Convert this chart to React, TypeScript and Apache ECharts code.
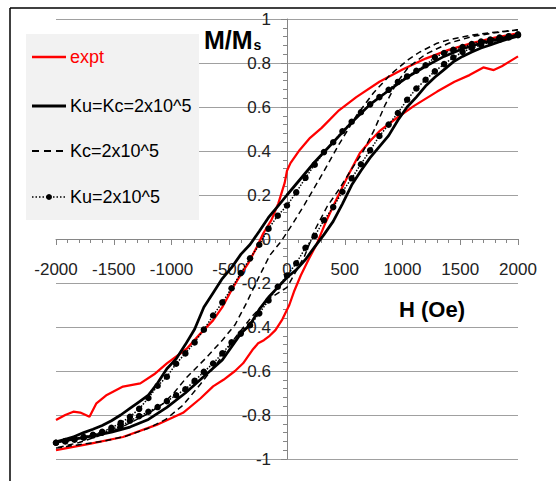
import { useEffect, useRef } from 'react';
import * as echarts from 'echarts';

const FONT = '"Liberation Sans", Arial, sans-serif';

const seriesNames = ['expt', 'Ku=Kc=2x10^5', 'Kc=2x10^5', 'Ku=2x10^5'];

// ---- expt (red) ----
const exptUpperH = [2000, 1800, 1600, 1400, 1200, 1000, 800, 600, 450, 300, 200, 110, 30, 0, -20, -75, -135, -205, -260, -335, -410, -480, -560, -640, -750, -870, -1040, -1150, -1270, -1420, -1560, -1650, -1710, -1790, -1850, -1920, -2000];
const exptUpperM = [0.935, 0.915, 0.89, 0.86, 0.82, 0.77, 0.715, 0.645, 0.585, 0.505, 0.46, 0.405, 0.345, 0.31, 0.255, 0.162, 0.086, 0.026, -0.035, -0.11, -0.17, -0.232, -0.31, -0.37, -0.43, -0.5, -0.565, -0.615, -0.656, -0.671, -0.709, -0.747, -0.808, -0.789, -0.785, -0.8, -0.823];
const exptLowerH = [-2000, -1700, -1420, -1130, -900, -750, -640, -550, -450, -380, -300, -250, -200, -150, -100, -40, 20, 60, 120, 190, 260, 330, 410, 530, 630, 720, 800, 950, 1100, 1300, 1450, 1580, 1700, 1790, 1860, 2000];
const exptLowerM = [-0.96, -0.93, -0.9, -0.845, -0.79, -0.725, -0.67, -0.64, -0.6, -0.565, -0.505, -0.474, -0.46, -0.44, -0.414, -0.365, -0.3, -0.24, -0.165, -0.09, -0.02, 0.07, 0.16, 0.29, 0.39, 0.445, 0.49, 0.55, 0.605, 0.67, 0.715, 0.745, 0.78, 0.768, 0.785, 0.83];

// ---- Ku=Kc (solid black) ----
const solidUpperH = [2000, 1840, 1680, 1520, 1360, 1200, 1040, 880, 720, 560, 400, 240, 80, 0, -80, -160, -240, -320, -400, -480, -560, -640, -720, -800, -880, -960, -1040, -1120, -1200, -1280, -1360, -1440, -1520, -1600, -1680, -1760, -1840, -1920, -2000];
const solidUpperM = [0.927, 0.91, 0.89, 0.865, 0.83, 0.785, 0.735, 0.675, 0.612, 0.53, 0.44, 0.35, 0.25, 0.2, 0.148, 0.098, 0.035, -0.025, -0.07, -0.13, -0.18, -0.245, -0.31, -0.41, -0.48, -0.545, -0.59, -0.655, -0.71, -0.74, -0.77, -0.8, -0.826, -0.848, -0.865, -0.88, -0.898, -0.91, -0.922];
const solidLowerH = [-2000, -1840, -1680, -1520, -1360, -1200, -1040, -880, -720, -560, -400, -320, -240, -160, -80, 0, 80, 160, 240, 320, 400, 480, 560, 640, 720, 800, 880, 960, 1040, 1120, 1200, 1280, 1360, 1440, 1520, 1600, 1680, 1760, 1840, 1920, 2000];
const solidLowerM = [-0.922, -0.91, -0.895, -0.878, -0.855, -0.82, -0.765, -0.7, -0.625, -0.55, -0.43, -0.39, -0.32, -0.265, -0.22, -0.175, -0.14, -0.093, -0.036, 0.02, 0.08, 0.16, 0.245, 0.31, 0.37, 0.42, 0.47, 0.54, 0.6, 0.645, 0.695, 0.735, 0.77, 0.805, 0.83, 0.85, 0.868, 0.882, 0.897, 0.91, 0.922];

// ---- Kc (dashed) ----
const dashUpperH = [2000, 1800, 1600, 1400, 1300, 1150, 1050, 900, 750, 600, 450, 300, 150, 50, -50, -150, -250, -350, -450, -560, -700, -870, -980, -1070, -1190, -1300, -1450, -1600, -1800, -2000];
const dashUpperM = [0.95, 0.94, 0.927, 0.905, 0.89, 0.85, 0.815, 0.75, 0.665, 0.56, 0.43, 0.29, 0.155, 0.07, -0.01, -0.075, -0.18, -0.29, -0.39, -0.46, -0.54, -0.63, -0.7, -0.747, -0.79, -0.82, -0.86, -0.89, -0.925, -0.95];
const dashLowerH = [-2000, -1800, -1600, -1400, -1200, -1050, -900, -750, -600, -450, -300, -150, 0, 150, 250, 350, 450, 550, 650, 750, 850, 950, 1050, 1200, 1400, 1600, 1800, 2000];
const dashLowerM = [-0.95, -0.935, -0.92, -0.897, -0.86, -0.82, -0.755, -0.66, -0.56, -0.45, -0.35, -0.27, -0.22, -0.08, 0.05, 0.15, 0.225, 0.31, 0.39, 0.49, 0.61, 0.71, 0.78, 0.84, 0.89, 0.92, 0.937, 0.95];

// ---- Ku (dotted with markers), field step 80 Oe ----
const kuH = [-2000, -1920, -1840, -1760, -1680, -1600, -1520, -1440, -1360, -1280, -1200, -1120, -1040, -960, -880, -800, -720, -640, -560, -480, -400, -320, -240, -160, -80, 0, 80, 160, 240, 320, 400, 480, 560, 640, 720, 800, 880, 960, 1040, 1120, 1200, 1280, 1360, 1440, 1520, 1600, 1680, 1760, 1840, 1920, 2000];
// upper branch listed from H = 2000 down to H = -2000
const kuUpperM = [0.93, 0.922, 0.916, 0.907, 0.898, 0.886, 0.873, 0.86, 0.845, 0.826, 0.79, 0.765, 0.739, 0.714, 0.678, 0.645, 0.612, 0.576, 0.533, 0.49, 0.44, 0.395, 0.338, 0.278, 0.212, 0.152, 0.106, 0.047, -0.026, -0.088, -0.155, -0.224, -0.288, -0.348, -0.412, -0.47, -0.52, -0.567, -0.626, -0.667, -0.723, -0.772, -0.808, -0.836, -0.858, -0.876, -0.89, -0.9, -0.908, -0.918, -0.926];
// lower branch listed from H = -2000 up to H = 2000
const kuLowerM = [-0.926, -0.92, -0.912, -0.903, -0.893, -0.88, -0.866, -0.851, -0.826, -0.805, -0.785, -0.764, -0.737, -0.71, -0.683, -0.645, -0.604, -0.566, -0.52, -0.47, -0.43, -0.392, -0.338, -0.279, -0.217, -0.166, -0.11, -0.04, 0.014, 0.085, 0.145, 0.215, 0.276, 0.34, 0.403, 0.468, 0.52, 0.573, 0.633, 0.684, 0.724, 0.762, 0.795, 0.825, 0.85, 0.868, 0.883, 0.895, 0.906, 0.916, 0.926];

const xTicks = { min: -2000, max: 2000, interval: 500 };
const yTicks = { min: -1, max: 1, interval: 0.2 };

const zip = (h: number[], m: number[]) => h.map((v, i) => [v, m[i]]);
const loop = (uh: number[], um: number[], lh: number[], lm: number[]) => [
  ...zip(uh, um),
  ['-', '-'],
  ...zip(lh, lm),
];

const kuHDesc = [...kuH].reverse();

export default function App() {
  const ref = useRef<HTMLDivElement>(null);
  useEffect(() => {
    document.body.style.margin = '0';
    const chart = echarts.init(ref.current!, null, { renderer: 'svg' });
    const axisColor = '#868686';
    const W = 556, H = 481;
    const gLeft = 56, gRight = 518, gTop = 19, gBottom = 459;
    // pixel position of the value 0 on each axis inside the plot rectangle
    const zeroX = gLeft + ((0 - xTicks.min) / (xTicks.max - xTicks.min)) * (gRight - gLeft);
    const zeroY = gTop + ((yTicks.max - 0) / (yTicks.max - yTicks.min)) * (gBottom - gTop);

    const legendRows = [57, 106, 151, 197];
    const lx1 = 32, lx2 = 66, tx = 70;
    const legendText = (i: number, color: string) => ({
      type: 'text',
      x: tx,
      y: legendRows[i],
      z: 6,
      style: { text: seriesNames[i], fontSize: 18, fontFamily: FONT, fill: color, verticalAlign: 'middle' },
    });

    chart.setOption({
      animation: false,
      grid: { left: gLeft, right: W - gRight, top: gTop, bottom: H - gBottom, containLabel: false },
      xAxis: {
        type: 'value',
        min: xTicks.min,
        max: xTicks.max,
        interval: xTicks.interval,
        position: 'bottom',
        offset: -(gBottom - zeroY),
        axisLine: { onZero: false, lineStyle: { color: axisColor, width: 1 } },
        axisTick: { show: true, length: 6, lineStyle: { color: axisColor } },
        minorTick: { show: true, splitNumber: 5, length: 4, lineStyle: { color: axisColor } },
        axisLabel: { margin: 22, fontSize: 17, color: '#222', fontFamily: FONT, formatter: (v: number) => String(v) },
        splitLine: { show: false },
      },
      yAxis: {
        type: 'value',
        min: yTicks.min,
        max: yTicks.max,
        interval: yTicks.interval,
        position: 'left',
        offset: -(zeroX - gLeft),
        axisLine: { onZero: false, lineStyle: { color: axisColor, width: 1 } },
        axisTick: { show: true, length: 6, lineStyle: { color: axisColor } },
        minorTick: { show: true, splitNumber: 5, length: 4, lineStyle: { color: axisColor } },
        axisLabel: {
          margin: 16,
          fontSize: 17,
          color: '#222',
          fontFamily: FONT,
          formatter: (v: number) => String(parseFloat(v.toFixed(1))),
        },
        splitLine: { show: true, lineStyle: { color: '#a0a0a0', width: 1 } },
      },
      graphic: [
        { type: 'rect', shape: { x: 26, y: 34, width: 173, height: 186 }, style: { fill: '#f2f2f2' }, z: 5 },
        { type: 'line', shape: { x1: lx1, y1: legendRows[0], x2: lx2, y2: legendRows[0] }, style: { stroke: '#ff0000', lineWidth: 2.5 }, z: 6 },
        { type: 'line', shape: { x1: lx1, y1: legendRows[1], x2: lx2, y2: legendRows[1] }, style: { stroke: '#000', lineWidth: 3 }, z: 6 },
        { type: 'line', shape: { x1: lx1, y1: legendRows[2], x2: lx2, y2: legendRows[2] }, style: { stroke: '#000', lineWidth: 1.8, lineDash: [7, 5] }, z: 6 },
        { type: 'line', shape: { x1: lx1, y1: legendRows[3], x2: lx2, y2: legendRows[3] }, style: { stroke: '#000', lineWidth: 1.5, lineDash: [1.5, 2] }, z: 6 },
        { type: 'circle', shape: { cx: (lx1 + lx2) / 2, cy: legendRows[3], r: 3 }, style: { fill: '#000' }, z: 6 },
        legendText(0, '#ff0000'),
        legendText(1, '#000'),
        legendText(2, '#000'),
        legendText(3, '#000'),
        { type: 'line', shape: { x1: 10, y1: 8, x2: 10, y2: 481 }, style: { stroke: '#000', lineWidth: 1.5 }, z: 6 },
        { type: 'line', shape: { x1: 10, y1: 8, x2: 556, y2: 8 }, style: { stroke: '#000', lineWidth: 1.5 }, z: 6 },
        {
          type: 'text',
          x: 204,
          y: 28,
          z: 6,
          style: {
            text: '{a|M/M}{b|s}',
            fill: '#000',
            rich: {
              a: { fontSize: 25, lineHeight: 24, fontWeight: 'bold', fontFamily: FONT, fill: '#000' },
              b: { fontSize: 14, lineHeight: 14, fontWeight: 'bold', fontFamily: FONT, fill: '#000', padding: [10, 0, 0, 1] },
            },
          },
        },
        {
          type: 'text',
          x: 399,
          y: 298,
          z: 6,
          style: { text: 'H (Oe)', fontSize: 22, fontWeight: 'bold', fontFamily: FONT, fill: '#000' },
        },
      ],
      series: [
        {
          name: seriesNames[0],
          type: 'line',
          data: loop(exptUpperH, exptUpperM, exptLowerH, exptLowerM),
          symbol: 'none',
          itemStyle: { color: '#ff0000' },
          lineStyle: { color: '#ff0000', width: 2.25 },
        },
        {
          name: seriesNames[1],
          type: 'line',
          data: loop(solidUpperH, solidUpperM, solidLowerH, solidLowerM),
          symbol: 'none',
          itemStyle: { color: '#000' },
          lineStyle: { color: '#000', width: 2.75 },
        },
        {
          name: seriesNames[2],
          type: 'line',
          data: loop(dashUpperH, dashUpperM, dashLowerH, dashLowerM),
          symbol: 'none',
          itemStyle: { color: '#000' },
          lineStyle: { color: '#000', width: 1.5, type: [6, 4] },
        },
        {
          name: seriesNames[3],
          type: 'line',
          data: loop(kuHDesc, kuUpperM, kuH, kuLowerM),
          symbol: 'circle',
          symbolSize: 6.5,
          showSymbol: true,
          showAllSymbol: true,
          itemStyle: { color: '#000' },
          lineStyle: { color: '#000', width: 1.5, type: 'dotted' },
        },
      ],
    });
    return () => chart.dispose();
  }, []);
  return <div ref={ref} style={{ width: 556, height: 481 }} />;
}
